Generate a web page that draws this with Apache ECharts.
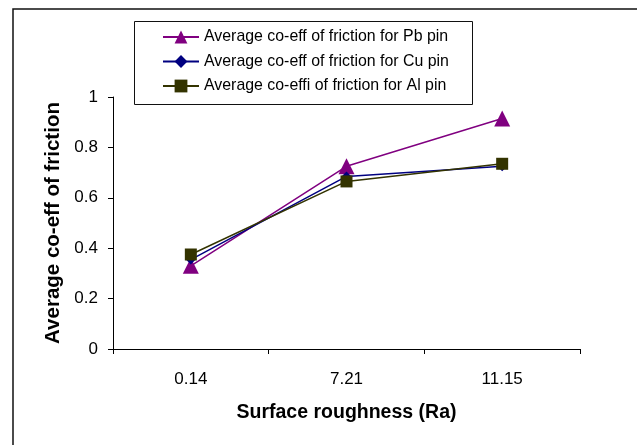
<!DOCTYPE html>
<html>
<head>
<meta charset="utf-8">
<script src="https://cdn.jsdelivr.net/npm/echarts@6/dist/echarts.min.js"></script>
<style>html,body{margin:0;padding:0;background:#fff;}#c{width:637px;height:445px;}</style>
</head>
<body>
<div id="c"></div>
<script>
var categories = ['0.14', '7.21', '11.15'];
var pbValues = [0.33, 0.725, 0.915];
var cuValues = [0.355, 0.685, 0.725];
var alValues = [0.375, 0.665, 0.735];
var seriesNames = [
  'Average co-eff of friction for Pb pin',
  'Average co-eff of friction for Cu pin',
  'Average co-effi of friction for Al pin'
];
var yTicks = [0, 0.2, 0.4, 0.6, 0.8, 1];

var chart = echarts.init(document.getElementById('c'), null, {renderer: 'canvas'});
var font = 'Liberation Sans, Arial, sans-serif';
chart.setOption({
  animation: false,
  backgroundColor: '#fff',
  graphic: [
    {type: 'rect', shape: {x: 13, y: 9, width: 640, height: 450}, style: {fill: 'none', stroke: '#111', lineWidth: 1.5}, z: 0},
    {type: 'rect', shape: {x: 134.5, y: 21.5, width: 338, height: 83}, style: {fill: '#fff', stroke: '#111', lineWidth: 1}, z: 1}
  ],
  legend: {
    orient: 'vertical',
    left: 162,
    top: 29,
    padding: 0,
    itemGap: 8.5,
    itemWidth: 36,
    itemHeight: 16,
    z: 5,
    textStyle: {fontFamily: font, fontSize: 15.9, lineHeight: 16, color: '#000', padding: [0, 0, 0, 0]},
    data: seriesNames
  },
  grid: {left: 113, right: 57, top: 97, bottom: 96, containLabel: false},
  xAxis: {
    type: 'category',
    data: categories,
    boundaryGap: true,
    name: 'Surface roughness (Ra)',
    nameLocation: 'middle',
    nameGap: 54,
    nameTextStyle: {fontFamily: font, fontSize: 19.5, fontWeight: 'bold', color: '#000'},
    axisLine: {lineStyle: {color: '#000', width: 1}},
    axisTick: {show: true, length: 5, inside: false, lineStyle: {color: '#000'}, alignWithLabel: false},
    axisLabel: {fontFamily: font, fontSize: 17, color: '#000', margin: 22, interval: 0},
    splitLine: {show: false}
  },
  yAxis: {
    type: 'value',
    min: 0,
    max: 1,
    interval: 0.2,
    name: 'Average co-eff of friction',
    nameLocation: 'middle',
    nameGap: 47,
    nameRotate: 90,
    nameTextStyle: {fontFamily: font, fontSize: 20.5, fontWeight: 'bold', color: '#000'},
    axisLine: {show: true, lineStyle: {color: '#000', width: 1}},
    axisTick: {show: true, length: 5, lineStyle: {color: '#000'}},
    axisLabel: {fontFamily: font, fontSize: 17, color: '#000', margin: 15,
      formatter: function (v) { return yTicks.indexOf(v) >= 0 ? String(v) : ''; }},
    splitLine: {show: false}
  },
  series: [
    {name: seriesNames[0], type: 'line', data: pbValues, symbol: 'triangle', symbolSize: [16, 16],
      itemStyle: {color: '#800080'}, lineStyle: {color: '#800080', width: 1.5}},
    {name: seriesNames[1], type: 'line', data: cuValues, symbol: 'diamond', symbolSize: 10,
      itemStyle: {color: '#000080'}, lineStyle: {color: '#000080', width: 1.5}},
    {name: seriesNames[2], type: 'line', data: alValues, symbol: 'rect', symbolSize: 12,
      itemStyle: {color: '#333300'}, lineStyle: {color: '#333300', width: 1.5}}
  ]
});
</script>
</body>
</html>
